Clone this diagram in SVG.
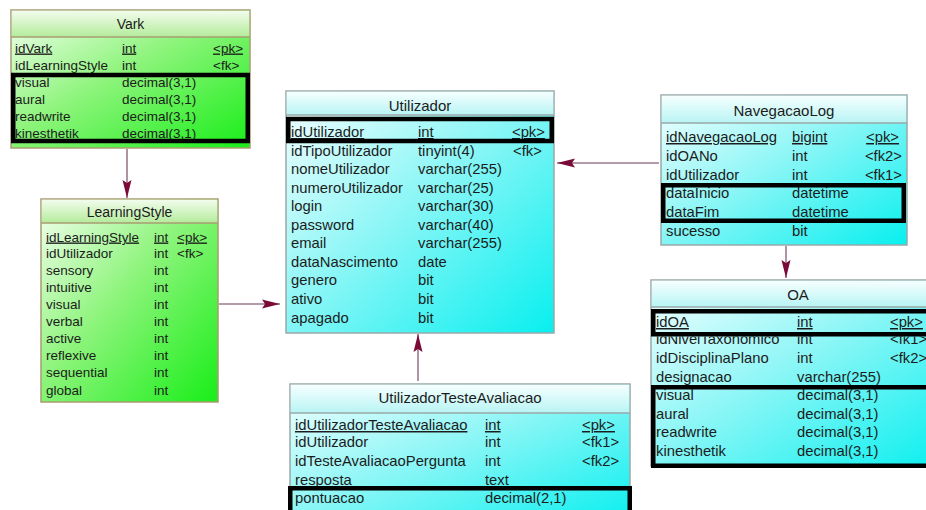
<svg xmlns="http://www.w3.org/2000/svg" width="926" height="510" viewBox="0 0 926 510">
  <style>
    text { font-family: "Liberation Sans", Arial, sans-serif; font-size: 13.5px; fill: #1c1c1c; }
    .cyan text { font-size: 14.8px; }
    .title { font-size: 14px; text-anchor: middle; }
    .cyan .title { font-size: 15px; }
    .u { text-decoration: underline; }
    .gbox { stroke: #a99c72; stroke-width: 1.5; }
    .cbox { stroke: #9aa8a8; stroke-width: 1.5; }
    .gsep { stroke: #a99c72; stroke-width: 1.5; }
    .csep { stroke: #9aa8a8; stroke-width: 1.5; }
    .hl { fill: none; stroke: #000; stroke-width: 4.5; }
    .conn { stroke: #9b7a8c; stroke-width: 1.6; fill: none; marker-end: url(#head); }
  </style>
  <defs>
    <linearGradient id="gBody" x1="0" y1="0" x2="1" y2="1">
      <stop offset="0" stop-color="#f6fff2"/>
      <stop offset="0.45" stop-color="#8ef47c"/>
      <stop offset="1" stop-color="#18ee18"/>
    </linearGradient>
    <linearGradient id="gHead" x1="0" y1="0" x2="0" y2="1">
      <stop offset="0" stop-color="#f2fcec"/>
      <stop offset="1" stop-color="#b4ec9c"/>
    </linearGradient>
    <linearGradient id="cBody" x1="0" y1="0" x2="1" y2="1">
      <stop offset="0" stop-color="#f6ffff"/>
      <stop offset="0.45" stop-color="#8ff6f6"/>
      <stop offset="1" stop-color="#08efef"/>
    </linearGradient>
    <linearGradient id="cHead" x1="0" y1="0" x2="0" y2="1">
      <stop offset="0" stop-color="#f6ffff"/>
      <stop offset="1" stop-color="#b8f4f4"/>
    </linearGradient>
    <marker id="head" viewBox="0 0 18 10" refX="18" refY="5" markerWidth="18" markerHeight="10" markerUnits="userSpaceOnUse" orient="auto">
      <path d="M0,0.5 L18,5 L0,9.5 L3,5 Z" fill="#7a0b38"/>
    </marker>
    <clipPath id="nivelClip">
      <rect x="640" y="336.5" width="300" height="20"/>
    </clipPath>
  </defs>

  <rect width="926" height="510" fill="#ffffff"/>

  <!-- connectors -->
  <g id="connectors">
    <line class="conn" x1="127" y1="149" x2="127" y2="198"/>
    <line class="conn" x1="219" y1="304" x2="280" y2="304"/>
    <line class="conn" x1="659" y1="163" x2="557" y2="163"/>
    <line class="conn" x1="786" y1="246" x2="786" y2="278"/>
    <line class="conn" x1="418" y1="381" x2="418" y2="334"/>
  </g>

  <!-- Vark -->
  <g id="vark" class="green">
    <rect class="gbox" x="11" y="10" width="239" height="138" fill="url(#gBody)"/>
    <rect x="11.75" y="10.75" width="237.5" height="26.25" fill="url(#gHead)"/>
    <line class="gsep" x1="11" y1="37" x2="250" y2="37"/>
    <text class="title" x="130.5" y="29">Vark</text>
    <text class="u" x="15" y="52.5">idVark</text><text class="u" x="122" y="52.5">int</text><text class="u" x="213" y="52.5">&lt;pk&gt;</text>
    <text x="15" y="69.5">idLearningStyle</text><text x="122" y="69.5">int</text><text x="213" y="69.5">&lt;fk&gt;</text>
    <text x="15" y="86.5">visual</text><text x="122" y="86.5">decimal(3,1)</text>
    <text x="15" y="103.5">aural</text><text x="122" y="103.5">decimal(3,1)</text>
    <text x="15" y="121">readwrite</text><text x="122" y="121">decimal(3,1)</text>
    <text x="15" y="137.5">kinesthetik</text><text x="122" y="137.5">decimal(3,1)</text>
    <rect class="hl" x="13.25" y="75" width="234.5" height="66"/>
  </g>

  <!-- LearningStyle -->
  <g id="learningstyle" class="green">
    <rect class="gbox" x="41" y="199" width="177" height="203" fill="url(#gBody)"/>
    <rect x="41.75" y="199.75" width="175.5" height="23.25" fill="url(#gHead)"/>
    <line class="gsep" x1="41" y1="223" x2="218" y2="223"/>
    <text class="title" x="129.5" y="216.5">LearningStyle</text>
    <text class="u" x="46" y="241.5">idLearningStyle</text><text class="u" x="154" y="241.5">int</text><text class="u" x="177" y="241.5">&lt;pk&gt;</text>
    <text x="46" y="257.5">idUtilizador</text><text x="154" y="257.5">int</text><text x="177" y="257.5">&lt;fk&gt;</text>
    <text x="46" y="274.5">sensory</text><text x="154" y="274.5">int</text>
    <text x="46" y="291.5">intuitive</text><text x="154" y="291.5">int</text>
    <text x="46" y="308.5">visual</text><text x="154" y="308.5">int</text>
    <text x="46" y="325.5">verbal</text><text x="154" y="325.5">int</text>
    <text x="46" y="342.5">active</text><text x="154" y="342.5">int</text>
    <text x="46" y="359.5">reflexive</text><text x="154" y="359.5">int</text>
    <text x="46" y="377">sequential</text><text x="154" y="377">int</text>
    <text x="46" y="394.5">global</text><text x="154" y="394.5">int</text>
  </g>

  <!-- Utilizador -->
  <g id="utilizador" class="cyan">
    <rect class="cbox" x="286" y="91" width="268" height="242" fill="url(#cBody)"/>
    <rect x="286.75" y="91.75" width="266.5" height="23.25" fill="url(#cHead)"/>
    <line class="csep" x1="286" y1="115" x2="554" y2="115"/>
    <text class="title" x="420" y="110.5">Utilizador</text>
    <text class="u" x="291" y="137">idUtilizador</text><text class="u" x="418" y="137">int</text><text class="u" x="512" y="137">&lt;pk&gt;</text>
    <text x="291" y="155.5">idTipoUtilizador</text><text x="418" y="155.5">tinyint(4)</text><text x="513" y="155.5">&lt;fk&gt;</text>
    <text x="291" y="174">nomeUtilizador</text><text x="418" y="174">varchar(255)</text>
    <text x="291" y="192.5">numeroUtilizador</text><text x="418" y="192.5">varchar(25)</text>
    <text x="291" y="211">login</text><text x="418" y="211">varchar(30)</text>
    <text x="291" y="229.5">password</text><text x="418" y="229.5">varchar(40)</text>
    <text x="291" y="248">email</text><text x="418" y="248">varchar(255)</text>
    <text x="291" y="266.5">dataNascimento</text><text x="418" y="266.5">date</text>
    <text x="291" y="285">genero</text><text x="418" y="285">bit</text>
    <text x="291" y="303.5">ativo</text><text x="418" y="303.5">bit</text>
    <text x="291" y="322.5">apagado</text><text x="418" y="322.5">bit</text>
    <rect class="hl" x="288.25" y="119" width="263.5" height="22"/>
  </g>

  <!-- NavegacaoLog -->
  <g id="navegacaolog" class="cyan">
    <rect class="cbox" x="661" y="95" width="246" height="150" fill="url(#cBody)"/>
    <rect x="661.75" y="95.75" width="244.5" height="27.25" fill="url(#cHead)"/>
    <line class="csep" x1="661" y1="123" x2="907" y2="123"/>
    <text class="title" x="784" y="116">NavegacaoLog</text>
    <text class="u" x="666" y="142">idNavegacaoLog</text><text class="u" x="792" y="142">bigint</text><text class="u" x="899" y="142" text-anchor="end">&lt;pk&gt;</text>
    <text x="666" y="161">idOANo</text><text x="792" y="161">int</text><text x="902" y="161" text-anchor="end">&lt;fk2&gt;</text>
    <text x="666" y="179.5">idUtilizador</text><text x="792" y="179.5">int</text><text x="902" y="179.5" text-anchor="end">&lt;fk1&gt;</text>
    <text x="666" y="198">dataInicio</text><text x="792" y="198">datetime</text>
    <text x="666" y="217">dataFim</text><text x="792" y="217">datetime</text>
    <text x="666" y="235.5">sucesso</text><text x="792" y="235.5">bit</text>
    <rect class="hl" x="663.25" y="185.25" width="240.5" height="35.5"/>
  </g>

  <!-- OA -->
  <g id="oa" class="cyan">
    <rect class="cbox" x="651" y="280" width="300" height="186" fill="url(#cBody)"/>
    <rect x="651.75" y="280.75" width="298.5" height="26.25" fill="url(#cHead)"/>
    <line class="csep" x1="651" y1="307" x2="951" y2="307"/>
    <text class="title" x="798" y="300">OA</text>
    <text class="u" x="656" y="327">idOA</text><text class="u" x="797" y="327">int</text><text class="u" x="890" y="327">&lt;pk&gt;</text>
    <g clip-path="url(#nivelClip)">
      <text x="656" y="343.5">idNivelTaxonomico</text><text x="797" y="343.5">int</text><text x="890" y="343.5">&lt;fk1&gt;</text>
    </g>
    <text x="656" y="362.5">idDisciplinaPlano</text><text x="797" y="362.5">int</text><text x="890" y="362.5">&lt;fk2&gt;</text>
    <text x="656" y="381.5">designacao</text><text x="797" y="381.5">varchar(255)</text>
    <text x="656" y="400">visual</text><text x="797" y="400">decimal(3,1)</text>
    <text x="656" y="418.5">aural</text><text x="797" y="418.5">decimal(3,1)</text>
    <text x="656" y="437">readwrite</text><text x="797" y="437">decimal(3,1)</text>
    <text x="656" y="455.5">kinesthetik</text><text x="797" y="455.5">decimal(3,1)</text>
    <rect class="hl" x="653.25" y="311.25" width="300" height="23"/>
    <rect class="hl" x="653.25" y="387.25" width="300" height="78.5"/>
  </g>

  <!-- UtilizadorTesteAvaliacao -->
  <g id="utilizadortesteavaliacao" class="cyan">
    <rect class="cbox" x="290" y="384" width="340" height="140" fill="url(#cBody)"/>
    <rect x="290.75" y="384.75" width="338.5" height="28.25" fill="url(#cHead)"/>
    <line class="csep" x1="290" y1="413" x2="630" y2="413"/>
    <text class="title" x="460" y="403">UtilizadorTesteAvaliacao</text>
    <text class="u" x="295" y="430">idUtilizadorTesteAvaliacao</text><text class="u" x="485" y="430">int</text><text class="u" x="582" y="430">&lt;pk&gt;</text>
    <text x="295" y="447">idUtilizador</text><text x="485" y="447">int</text><text x="582" y="447">&lt;fk1&gt;</text>
    <text x="295" y="466">idTesteAvaliacaoPergunta</text><text x="485" y="466">int</text><text x="582" y="466">&lt;fk2&gt;</text>
    <text x="295" y="484.5">resposta</text><text x="485" y="484.5">text</text>
    <text x="295" y="503">pontuacao</text><text x="485" y="503">decimal(2,1)</text>
    <rect class="hl" x="290.25" y="488.25" width="339.5" height="30"/>
  </g>
</svg>
